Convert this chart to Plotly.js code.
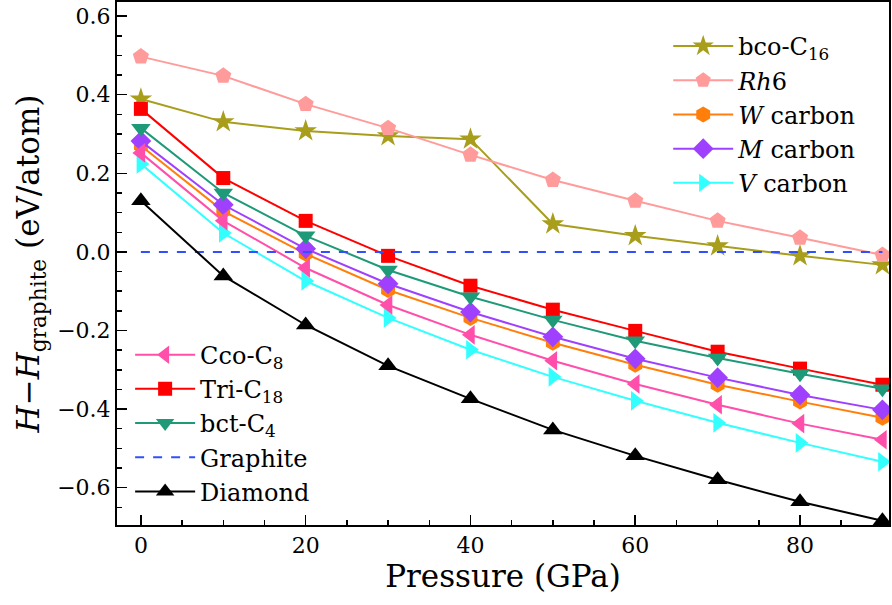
<!DOCTYPE html>
<html>
<head>
<meta charset="utf-8">
<script src="https://cdn.plot.ly/plotly-3.0.1.min.js"></script>
<style>html,body{margin:0;padding:0;background:#fff;}#chart{width:892px;height:605px;}</style>
</head>
<body>
<div id="chart"></div>
<script>
const pressure = [0, 10, 20, 30, 40, 50, 60, 70, 80, 90];
const bcoC16   = [0.389, 0.331, 0.308, 0.295, 0.287, 0.071, 0.041, 0.015, -0.010, -0.033];
const rh6      = [0.497, 0.448, 0.376, 0.315, 0.247, 0.183, 0.130, 0.079, 0.036, -0.008];
const wCarbon  = [0.270, 0.104, -0.005, -0.097, -0.168, -0.231, -0.287, -0.338, -0.381, -0.422];
const mCarbon  = [0.282, 0.120, 0.008, -0.081, -0.153, -0.216, -0.272, -0.320, -0.364, -0.402];
const vCarbon  = [0.224, 0.048, -0.074, -0.168, -0.249, -0.318, -0.379, -0.435, -0.486, -0.534];
const ccoC8    = [0.252, 0.079, -0.041, -0.135, -0.211, -0.277, -0.336, -0.389, -0.437, -0.478];
const triC18   = [0.364, 0.188, 0.079, -0.010, -0.086, -0.147, -0.201, -0.254, -0.297, -0.338];
const bctC4    = [0.315, 0.150, 0.041, -0.046, -0.114, -0.173, -0.226, -0.270, -0.310, -0.348];
const graphite = [0, 0, 0, 0, 0, 0, 0, 0, 0, 0];
const diamond  = [0.130, -0.061, -0.186, -0.290, -0.374, -0.453, -0.519, -0.580, -0.636, -0.684];

const F = 'DejaVu Serif';
function tr(name, y, color, symbol, size, legend, extra) {
  return Object.assign({
    x: pressure, y: y, name: name, type: 'scatter', mode: 'lines+markers',
    line: {color: color, width: 2},
    marker: {color: color, symbol: symbol, size: size},
    legend: legend, legendgroup: name
  }, extra || {});
}
const data = [
  tr('bco-C<sub>16</sub>', bcoC16, '#A89E1C', 'star', 17, 'legend'),
  tr('<i>Rh</i>6', rh6, '#FF9B9B', 'pentagon', 17, 'legend'),
  tr('<i>W</i> carbon', wCarbon, '#FF7F0A', 'hexagon', 16, 'legend'),
  tr('<i>M</i> carbon', mCarbon, '#A040FF', 'diamond', 16, 'legend'),
  tr('<i>V</i> carbon', vCarbon, '#33FFFF', 'triangle-right', 17, 'legend'),
  tr('Cco-C<sub>8</sub>', ccoC8, '#FF4FAA', 'triangle-left', 17, 'legend2'),
  tr('Tri-C<sub>18</sub>', triC18, '#FF0000', 'square', 14, 'legend2'),
  tr('bct-C<sub>4</sub>', bctC4, '#1E9A78', 'triangle-down', 17, 'legend2'),
  tr('Graphite', graphite, '#3050FF', 'circle', 1, 'legend2', {mode: 'lines', line: {color: '#3050FF', width: 2, dash: 'dash'}}),
  tr('Diamond', diamond, '#000000', 'triangle-up', 17, 'legend2')
];
const axisCommon = {
  showline: true, mirror: true, linecolor: '#000', linewidth: 2,
  ticks: 'inside', ticklen: 10, tickwidth: 1.5, tickcolor: '#000',
  showgrid: false, zeroline: false,
  tickfont: {family: F, size: 22, color: '#000'},
  minor: {ticks: 'inside', ticklen: 5, tickwidth: 1.5, tickcolor: '#000', showgrid: false}
};
const layout = {
  width: 892, height: 605,
  margin: {l: 117, r: 3, t: 2, b: 80},
  paper_bgcolor: '#fff', plot_bgcolor: '#fff',
  font: {family: F, color: '#000'},
  xaxis: Object.assign({}, axisCommon, {
    range: [-2.9, 90.8], tickvals: [0, 20, 40, 60, 80],
    minor: Object.assign({}, axisCommon.minor, {dtick: 5}),
    title: {text: 'Pressure (GPa)', font: {family: F, size: 31}, standoff: 4}
  }),
  yaxis: Object.assign({}, axisCommon, {
    range: [-0.695, 0.636], tickvals: [-0.6, -0.4, -0.2, 0, 0.2, 0.4, 0.6], tickformat: '.1f',
    minor: Object.assign({}, axisCommon.minor, {dtick: 0.05, tick0: 0}),
    title: {text: '<i>H</i>\u2212<i>H</i><sub>graphite</sub> (eV/atom)', font: {family: F, size: 31}, standoff: 8}
  }),
  legend: {x: 0.714, y: 0.958, xanchor: 'left', yanchor: 'top', bgcolor: 'rgba(0,0,0,0)',
    font: {family: F, size: 24}, itemwidth: 60, tracegroupgap: 0},
  legend2: {x: 0.017, y: 0.368, xanchor: 'left', yanchor: 'top', bgcolor: 'rgba(0,0,0,0)',
    font: {family: F, size: 24}, itemwidth: 60, tracegroupgap: 0},
  showlegend: true
};
Plotly.newPlot('chart', data, layout, {displayModeBar: false, staticPlot: true});
</script>
</body>
</html>
